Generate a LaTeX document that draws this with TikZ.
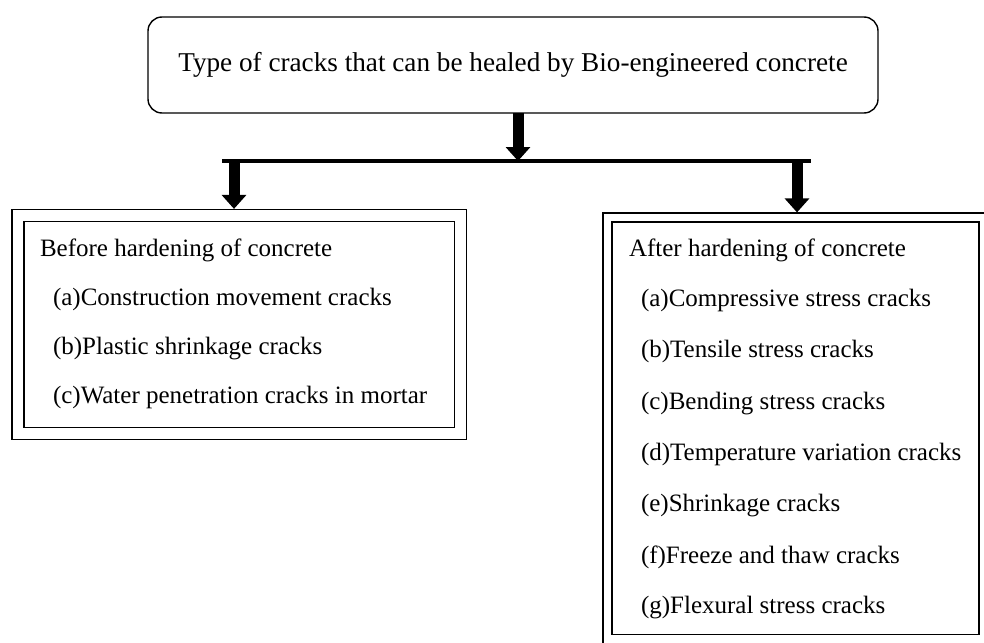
\documentclass[tikz,border=0pt]{standalone}
\usepackage{fontspec}
\setmainfont{Liberation Serif}
\usetikzlibrary{arrows.meta}

\begin{document}
\begin{tikzpicture}[x=0.5pt,y=-0.5pt,
	every node/.style={inner sep=0pt,outer sep=0pt},
	titlebox/.style={draw,line width=0.7pt,rounded corners=7pt,minimum width=365pt,minimum height=48pt,font=\fontsize{13.6pt}{16pt}\selectfont},
	frame/.style={draw,double,line width=0.6pt,double distance=#1},
	entry/.style={anchor=base west,font=\fontsize{12.5pt}{15pt}\selectfont},
	fatarrow/.style={line width=5.5pt,-{Triangle[width=12pt,length=7pt]}}]

				\useasboundingbox (0,0) rectangle (984,642);
				\clip (0,0) rectangle (984,642);

				\node[titlebox] (top) at (513,65) {Type of cracks that can be healed by Bio-engineered concrete};

				\node[frame=5.4pt,outer sep=3.3pt,minimum width=221.25pt,minimum height=109pt] (before) at (239.25,324.5) {};
				\node[frame=3.9pt,outer sep=2.55pt,minimum width=188pt,minimum height=210.75pt] (after) at (795.5,428.25) {};

				\coordinate (split) at (518,161);
				\coordinate (bar-l) at (222,161);
				\coordinate (bar-r) at (811,161);
				\coordinate (fork-l) at (234,161);
				\coordinate (fork-r) at (797,161);

				\draw[fatarrow] (top.south -| split) -- (split);
				\draw[line width=2pt] (bar-l) -- (bar-r);
				\draw[fatarrow] (fork-l) -- (fork-l |- before.north);
				\draw[fatarrow] (fork-r) -- (fork-r |- after.north);

				% left box
				\foreach \x/\y/\txt [count=\i] in {40/256/Before hardening of concrete,
					53/305.5/(a)Construction movement cracks,
					53/354.5/(b)Plastic shrinkage cracks,
					53/403.5/(c)Water penetration cracks in mortar}
					\node[entry] (before-\i) at (\x,\y) {\txt};

				% right box
				\foreach \x/\y/\txt [count=\i] in {629/256/After hardening of concrete,
					641/306/(a)Compressive stress cracks,
					641/357.5/(b)Tensile stress cracks,
					641/409/(c)Bending stress cracks,
					641/460/(d)Temperature variation cracks,
					641/511.5/(e)Shrinkage cracks,
					641/563/(f)Freeze and thaw cracks,
					641/613.5/(g)Flexural stress cracks}
					\node[entry] (after-\i) at (\x,\y) {\txt};

			\end{tikzpicture}
\end{document}
